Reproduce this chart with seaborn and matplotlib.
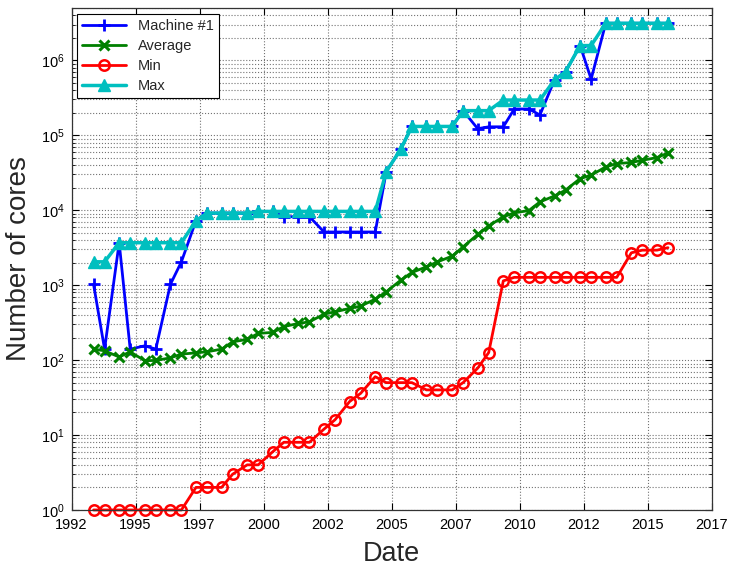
import matplotlib
matplotlib.use('Agg')
import matplotlib.pyplot as plt
import matplotlib.ticker as mticker
import seaborn as sns

# list dates (decimal years, as placed on the x axis)
dates = [1992.86, 1993.29, 1993.86, 1994.29, 1994.86, 1995.29, 1995.86, 1996.29,
         1996.86, 1997.29, 1997.86, 1998.29, 1998.86, 1999.29, 1999.86, 2000.29,
         2000.86, 2001.29, 2001.86, 2002.29, 2002.86, 2003.29, 2003.86, 2004.29,
         2004.86, 2005.29, 2005.86, 2006.29, 2006.86, 2007.29, 2007.86, 2008.29,
         2008.86, 2009.29, 2009.86, 2010.29, 2010.86, 2011.29, 2011.86, 2012.29,
         2012.86, 2013.29, 2013.86, 2014.29, 2014.86, 2015.29]

machine1 = [1024, 140, 3680, 140, 155, 140, 1024, 2048,
            7264, 9152, 9152, 9152, 9152, 9632, 9632, 8192,
            8192, 8192, 5120, 5120, 5120, 5120, 5120, 32768,
            65536, 131072, 131072, 131072, 131072, 212992, 122400, 129600,
            129600, 224162, 224162, 186368, 548352, 705024, 1572864, 560640,
            3120000, 3120000, 3120000, 3120000, 3120000, 3120000]

average = [140, 133, 110, 129, 98, 99, 107, 120,
           125, 129, 140, 175, 189, 227, 234, 280,
           308, 324, 410, 441, 489, 525, 650, 815,
           1166, 1476, 1754, 2045, 2436, 3243, 4742, 6180,
           8150, 9210, 9900, 12900, 15500, 18500, 26400, 29300,
           37800, 41900, 43300, 46400, 50300, 58000]

min_cores = [1, 1, 1, 1, 1, 1, 1, 1,
             2, 2, 2, 3, 4, 4, 6, 8,
             8, 8, 12, 16, 28, 36, 60, 50,
             50, 50, 40, 40, 40, 50, 78, 126,
             1140, 1270, 1270, 1270, 1270, 1270, 1270, 1270,
             1270, 1270, 2700, 2930, 2930, 3160]

max_cores = [2048, 2048, 3680, 3680, 3680, 3680, 3680, 3680,
             7264, 9152, 9152, 9152, 9152, 9632, 9632, 9632,
             9632, 9632, 9632, 9632, 9632, 9632, 9632, 32768,
             65536, 131072, 131072, 131072, 131072, 212992, 212992, 212992,
             294912, 294912, 294912, 294912, 548352, 705024, 1572864, 1572864,
             3120000, 3120000, 3120000, 3120000, 3120000, 3120000]

xtick_pos = [1992, 1994.5, 1997, 1999.5, 2002, 2004.5, 2007, 2009.5, 2012, 2014.5, 2017]
xtick_labels = ['1992', '1995', '1997', '2000', '2002', '2005', '2007', '2010', '2012', '2015', '2017']

sns.set_style('ticks')
plt.rcParams['font.family'] = ['Liberation Sans', 'DejaVu Sans']

fig = plt.figure(figsize=(7.3, 5.66), dpi=100)
ax = fig.add_axes([0.098, 0.099, 0.877, 0.887])

# dotted MATLAB-like grid, drawn under the lines
ax.set_axisbelow(True)

sns.lineplot(x=dates, y=machine1, ax=ax, errorbar=None, color='#0000ff', lw=2,
             marker='+', ms=9, mew=2, mec='#0000ff', label='Machine #1')
sns.lineplot(x=dates, y=average, ax=ax, errorbar=None, color='#008000', lw=2,
             marker='x', ms=6.5, mew=2.2, mec='#008000', label='Average')
sns.lineplot(x=dates, y=min_cores, ax=ax, errorbar=None, color='#ff0000', lw=2,
             marker='o', ms=7.5, mew=1.8, mec='#ff0000', mfc='none', label='Min',
             clip_on=False)
sns.lineplot(x=dates, y=max_cores, ax=ax, errorbar=None, color='#00bfbf', lw=2.5,
             marker='^', ms=9, mew=1, mec='#00bfbf', mfc='#00bfbf', label='Max')

ax.set_yscale('log')
ax.set_ylim(1, 5e6)
ax.set_xlim(1992, 2017)
ax.set_xticks(xtick_pos)
ax.set_xticklabels(xtick_labels)
ax.yaxis.set_major_locator(mticker.LogLocator(base=10, numticks=10))
ax.yaxis.set_minor_locator(mticker.LogLocator(base=10, subs=range(2, 10), numticks=20))
ax.yaxis.set_minor_formatter(mticker.NullFormatter())

ax.grid(True, which='major', axis='both', ls=':', color='0.45', lw=0.8)
ax.grid(True, which='minor', axis='y', ls=':', color='0.45', lw=0.8)

ax.tick_params(which='both', direction='in', top=True, right=True, labelsize=10.5, colors='black')
ax.tick_params(which='major', length=5, width=0.8)
ax.tick_params(which='minor', length=2.5, width=0.6)
ax.tick_params(axis='x', pad=6)
ax.tick_params(axis='y', pad=5)
for s in ax.spines.values():
    s.set_color('0.2')
    s.set_linewidth(0.9)

ax.set_xlabel('Date', fontsize=19.5, labelpad=6)
ax.set_ylabel('Number of cores', fontsize=20, labelpad=6)

leg = ax.legend(loc='upper left', fontsize=10.5, frameon=True, fancybox=False,
                edgecolor='black', framealpha=1, handlelength=3.0,
                borderaxespad=0.4, borderpad=0.35, labelspacing=0.42)
leg.get_frame().set_linewidth(0.8)

fig.savefig('out.png', dpi=100)
